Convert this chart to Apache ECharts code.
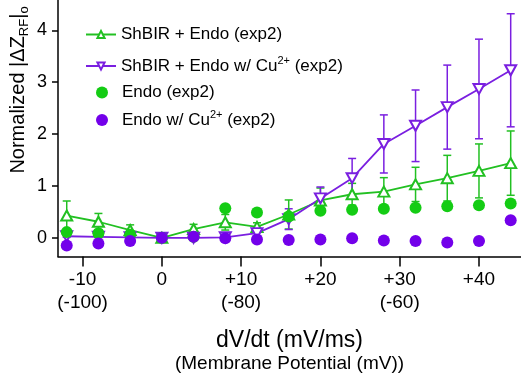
<!DOCTYPE html>
<html><head><meta charset="utf-8">
<script src="https://cdn.jsdelivr.net/npm/echarts@6/dist/echarts.min.js"></script>
<style>html,body{margin:0;padding:0;background:#fff}#c{width:521px;height:378px}</style>
</head><body><div id="c"></div>
<script>
// ---- data ----
const xValues = [-12, -8, -4, 0, 4, 8, 12, 16, 20, 24, 28, 32, 36, 40, 44];
const shbirEndo = [0.43, 0.31, 0.15, 0, 0.17, 0.30, 0.21, 0.45, 0.72, 0.84, 0.89, 1.03, 1.15, 1.29, 1.44];
const shbirEndoErr = [0.28, 0.16, 0.10, 0, 0.09, 0.15, 0.08, 0.28, 0.24, 0.21, 0.27, 0.33, 0.44, 0.52, 0.62];
const shbirEndoCu = [0.03, 0.02, 0.01, 0, 0.0, 0.01, 0.09, 0.36, 0.76, 1.15, 1.81, 2.16, 2.52, 2.87, 3.23];
const shbirEndoCuErr = [0.02, 0.02, 0.02, 0, 0.03, 0.03, 0.05, 0.20, 0.22, 0.38, 0.56, 0.69, 0.81, 0.96, 1.09];
const endo = [0.11, 0.09, 0.06, 0.0, 0.02, 0.57, 0.49, 0.41, 0.52, 0.54, 0.56, 0.58, 0.61, 0.63, 0.66];
const endoCu = [-0.15, -0.11, -0.06, 0.0, 0.02, -0.01, -0.03, -0.04, -0.03, -0.01, -0.05, -0.06, -0.09, -0.06, 0.34];

const xTickValues = [-10, 0, 10, 20, 30, 40];
const xTickLabels = ['-10', '0', '+10', '+20', '+30', '+40'];
const xTickSubLabels = ['(-100)', '', '(-80)', '', '(-60)', ''];
const yTickValues = [0, 1, 2, 3, 4];
const yTickLabels = ['0', '1', '2', '3', '4'];

const seriesNames = ['ShBIR + Endo (exp2)', 'ShBIR + Endo w/ Cu2+ (exp2)', 'Endo (exp2)', 'Endo w/ Cu2+ (exp2)'];
const xTitle = 'dV/dt (mV/ms)';
const xSubTitle = '(Membrane Potential (mV))';

// ---- styling ----
const FONT = "'Liberation Sans', Arial, sans-serif";
const GREEN_LINE = '#22c022';
const PURPLE_LINE = '#7a1fe0';
const GREEN_DOT = '#14cc14';
const PURPLE_DOT = '#7300ea';

function pairs(ys) { return xValues.map((x, i) => [x, ys[i]]); }
function errData(ys, es) { return xValues.map((x, i) => [x, ys[i], es[i]]); }

function errRender(params, api) {
  const x = api.value(0), v = api.value(1), e = api.value(2);
  if (!e) return null;
  const top = api.coord([x, v + e]);
  const bot = api.coord([x, v - e]);
  const hw = 4;
  const style = { stroke: api.visual('color'), lineWidth: 1.5 };
  return {
    type: 'group', children: [
      { type: 'line', shape: { x1: top[0], y1: top[1], x2: bot[0], y2: bot[1] }, style: style },
      { type: 'line', shape: { x1: top[0] - hw, y1: top[1], x2: top[0] + hw, y2: top[1] }, style: style },
      { type: 'line', shape: { x1: bot[0] - hw, y1: bot[1], x2: bot[0] + hw, y2: bot[1] }, style: style }
    ]
  };
}

function legendFmt(name) {
  if (name.indexOf('Cu2+') >= 0) {
    const parts = name.split('Cu2+');
    return '{t|' + parts[0] + 'Cu}{sup|2+}{t|' + parts[1] + '}';
  }
  return '{t|' + name + '}';
}
const legendText = {
  fontFamily: FONT, fontSize: 17, color: '#000',
  rich: {
    t: { fontFamily: FONT, fontSize: 17, lineHeight: 22, color: '#000' },
    sup: { fontFamily: FONT, fontSize: 11, lineHeight: 11, verticalAlign: 'top', color: '#000' }
  }
};
const legendTops = [26, 55, 84, 109];
const legendLefts = [85, 85, 96, 96];
const legendItemHeights = [9, 9, 12, 12];
const legends = seriesNames.map((n, i) => ({
  data: [n], left: legendLefts[i], top: legendTops[i], padding: 0, itemWidth: 30, itemHeight: legendItemHeights[i],
  selectedMode: false, textStyle: legendText, formatter: legendFmt
}));

const chart = echarts.init(document.getElementById('c'), null, { renderer: 'canvas' });
chart.setOption({
  animation: false,
  backgroundColor: '#fff',
  grid: { left: 58, right: 0, top: 0, bottom: 121 },
  legend: legends,
  xAxis: {
    type: 'value', min: -13.1, max: 45.3,
    axisLine: { show: true, onZero: false, lineStyle: { color: '#000', width: 1.5 } },
    axisTick: { show: true, length: 10, lineStyle: { color: '#000', width: 1.5 }, customValues: xTickValues },
    axisLabel: {
      customValues: xTickValues, margin: 12, fontFamily: FONT, fontSize: 19, color: '#000', lineHeight: 23,
      formatter: function (v) {
        const i = xTickValues.indexOf(v);
        if (i < 0) return '';
        return xTickSubLabels[i] ? xTickLabels[i] + '\n' + xTickSubLabels[i] : xTickLabels[i];
      }
    },
    splitLine: { show: false },
    name: '{a|' + xTitle + '}\n{b|' + xSubTitle + '}',
    nameLocation: 'middle', nameGap: 72,
    nameTextStyle: {
      rich: {
        a: { fontFamily: FONT, fontSize: 23, lineHeight: 24, color: '#000' },
        b: { fontFamily: FONT, fontSize: 19, lineHeight: 22, color: '#000' }
      }
    }
  },
  yAxis: {
    type: 'value', min: -0.36, max: 4.585,
    axisLine: { show: true, onZero: false, lineStyle: { color: '#000', width: 1.5 } },
    axisTick: { show: true, length: 6, lineStyle: { color: '#000', width: 1.5 }, customValues: yTickValues },
    axisLabel: {
      customValues: yTickValues, margin: 11, fontFamily: FONT, fontSize: 18, color: '#000',
      formatter: function (v) { const i = yTickValues.indexOf(v); return i < 0 ? '' : yTickLabels[i]; }
    },
    splitLine: { show: false }
  },
  graphic: [{
    type: 'text', x: 18, y: 90, rotation: Math.PI / 2,
    style: {
      text: '{a|Normalized |ΔZ}{s|RF}{a||}{s|o}',
      align: 'center', verticalAlign: 'middle',
      rich: {
        a: { fontFamily: FONT, fontSize: 20, lineHeight: 26, color: '#000' },
        s: { fontFamily: FONT, fontSize: 13, lineHeight: 13, verticalAlign: 'bottom', color: '#000' }
      }
    }
  }],
  series: [
    { type: 'custom', name: 'err1', data: errData(shbirEndo, shbirEndoErr), renderItem: errRender,
      itemStyle: { color: GREEN_LINE }, z: 2 },
    { type: 'custom', name: 'err2', data: errData(shbirEndoCu, shbirEndoCuErr), renderItem: errRender,
      itemStyle: { color: PURPLE_LINE }, z: 2 },
    { type: 'line', name: seriesNames[0], data: pairs(shbirEndo), symbol: 'emptyTriangle', symbolSize: [11, 10],
      showAllSymbol: true, lineStyle: { color: GREEN_LINE, width: 1.8 }, itemStyle: { color: GREEN_LINE, borderWidth: 1.3 }, z: 3 },
    { type: 'line', name: seriesNames[1], data: pairs(shbirEndoCu), symbol: 'emptyPath://M0,0L10,0L5,9Z', symbolSize: [11, 10],
      showAllSymbol: true, lineStyle: { color: PURPLE_LINE, width: 1.8 }, itemStyle: { color: PURPLE_LINE, borderWidth: 1.3 }, z: 3 },
    { type: 'scatter', name: seriesNames[2], data: pairs(endo), symbol: 'circle', symbolSize: 12,
      itemStyle: { color: GREEN_DOT, opacity: 1 }, z: 4 },
    { type: 'scatter', name: seriesNames[3], data: pairs(endoCu), symbol: 'circle', symbolSize: 12,
      itemStyle: { color: PURPLE_DOT, opacity: 1 }, z: 5 }
  ]
});
</script>
</body></html>
